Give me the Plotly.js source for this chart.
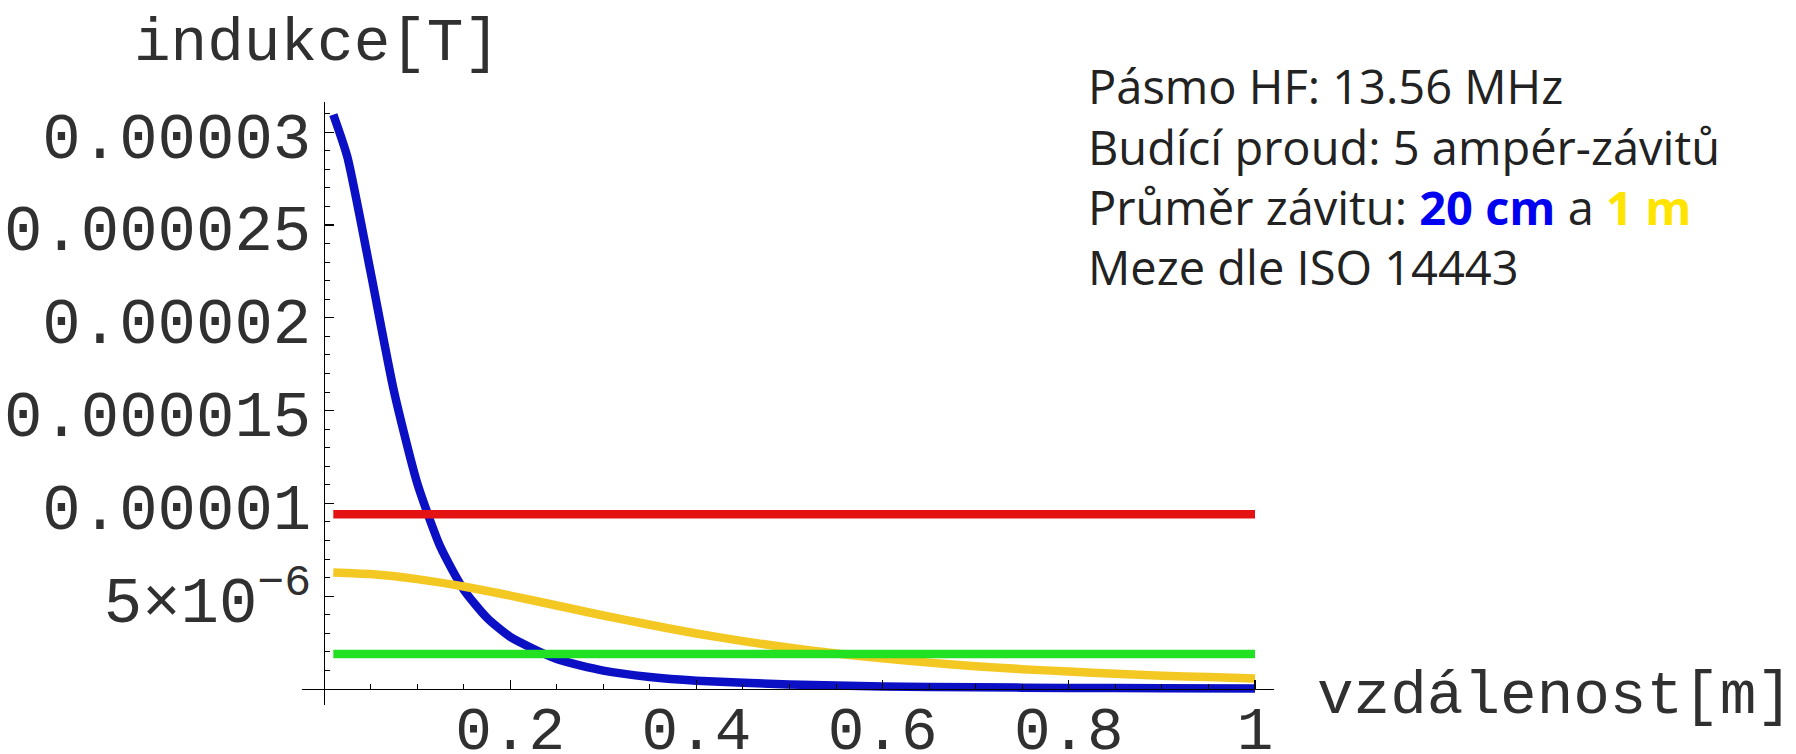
<!DOCTYPE html>
<html>
<head>
<meta charset="utf-8">
<script src="https://cdn.plot.ly/plotly-3.0.1.min.js"></script>
<style>html,body{margin:0;padding:0;background:#fff;}#chart{width:1796px;height:754px;}</style>
</head>
<body>
<div id="chart"></div>
<script>
// ---- data ----
const xBlue = [0.01, 0.025, 0.05, 0.075, 0.1, 0.125, 0.15, 0.175, 0.2, 0.25, 0.3, 0.35, 0.4, 0.5, 0.6, 0.7, 0.8, 0.9, 1.0];
const bBlue = [3.095e-5, 2.868e-5, 2.248e-5, 1.608e-5, 1.111e-5, 7.66e-6, 5.36e-6, 3.84e-6, 2.81e-6, 1.61e-6, 9.9e-7, 6.5e-7, 4.5e-7, 2.4e-7, 1.4e-7, 9e-8, 6e-8, 4e-8, 3e-8];
const xYellow = [0.01, 0.05, 0.1, 0.15, 0.2, 0.25, 0.3, 0.35, 0.4, 0.45, 0.5, 0.55, 0.6, 0.65, 0.7, 0.75, 0.8, 0.85, 0.9, 0.95, 1.0];
const bYellow = [6.28e-6, 6.19e-6, 5.92e-6, 5.52e-6, 5.03e-6, 4.50e-6, 3.96e-6, 3.46e-6, 2.99e-6, 2.58e-6, 2.22e-6, 1.91e-6, 1.65e-6, 1.42e-6, 1.23e-6, 1.07e-6, 9.4e-7, 8.2e-7, 7.2e-7, 6.4e-7, 5.6e-7];
const xLimits = [0.01, 1.0];
const bLimitMax = [9.42e-6, 9.42e-6];
const bLimitMin = [1.885e-6, 1.885e-6];
const xTickVals = [0.2, 0.4, 0.6, 0.8, 1];
const xTickText = ['0.2', '0.4', '0.6', '0.8', '1'];
const yTickVals = [5e-6, 1e-5, 1.5e-5, 2e-5, 2.5e-5, 3e-5];
const yTickText = ['5\u00d710<sup>\u22126</sup>', '0.00001', '0.000015', '0.00002', '0.000025', '0.00003'];
const infoLines = [
  'Pásmo HF: 13.56 MHz',
  'Budící proud: 5 ampér-závitů',
  'Průměr závitu: <b><span style="color:#0000f0">20 cm</span></b> a <b><span style="color:#ffe400">1 m</span></b>',
  'Meze dle ISO 14443'
];
const yTitle = 'indukce[T]';
const xTitle = 'vzdálenost[m]';

// ---- layout geometry (pixels) ----
const W = 1796, H = 754;
const L = 302, R = 1274, T = 102, B = 705;
const pw = R - L, ph = B - T;
const px = x => (x - L) / pw;
const py = y => (B - y) / ph;

const mono = 'Liberation Mono, Courier New, monospace';
const sans = 'Open Sans, Lato, sans-serif';
const monoColor = '#303030';

const lw = 8.5;
const traces = [
  {x: xBlue, y: bBlue, mode: 'lines', line: {color: '#0b10c4', width: lw, shape: 'spline', smoothing: 0.6}},
  {x: xYellow, y: bYellow, mode: 'lines', line: {color: '#f4c822', width: lw, shape: 'spline', smoothing: 0.6}},
  {x: xLimits, y: bLimitMax, mode: 'lines', line: {color: '#e41212', width: lw}},
  {x: xLimits, y: bLimitMin, mode: 'lines', line: {color: '#22e022', width: lw}}
];

const infoY = [86, 147, 207, 267];
const annotations = infoLines.map((t, i) => ({
  text: t, xref: 'paper', yref: 'paper', x: px(1086), y: py(infoY[i]),
  xanchor: 'left', yanchor: 'middle', showarrow: false, align: 'left',
  font: {family: sans, size: 47, color: '#222222'}
}));
annotations.push({text: yTitle, xref: 'paper', yref: 'paper', x: px(317), y: py(44),
  xanchor: 'center', yanchor: 'middle', showarrow: false, font: {family: mono, size: 61, color: monoColor}});
annotations.push({text: xTitle, xref: 'paper', yref: 'paper', x: px(1315), y: py(696),
  xanchor: 'left', yanchor: 'middle', showarrow: false, font: {family: mono, size: 61, color: monoColor}});

const layout = {
  width: W, height: H,
  margin: {l: L, r: W - R, t: T, b: H - B, pad: 0},
  paper_bgcolor: '#ffffff', plot_bgcolor: '#ffffff',
  showlegend: false,
  xaxis: {
    range: [(L - 324) / 931, (R - 324) / 931],
    anchor: 'free', position: py(689),
    showline: true, linecolor: '#000', linewidth: 1.4,
    showgrid: false, zeroline: false,
    tickmode: 'array', tickvals: xTickVals, ticktext: xTickText,
    ticks: 'inside', ticklen: 9, tickwidth: 1.2, tickcolor: '#000',
    ticklabelstandoff: -15,
    minor: {tickmode: 'linear', tick0: 0, dtick: 0.05, ticks: 'inside', ticklen: 5, tickwidth: 1, tickcolor: '#000', showgrid: false},
    tickfont: {family: mono, size: 61, color: monoColor}
  },
  yaxis: {
    range: [(689 - B) / 18.56e6, (689 - T) / 18.56e6],
    anchor: 'free', position: px(324),
    showline: true, linecolor: '#000', linewidth: 1.4,
    showgrid: false, zeroline: false,
    tickmode: 'array', tickvals: yTickVals, ticktext: yTickText,
    ticks: 'inside', ticklen: 9, tickwidth: 1.2, tickcolor: '#000',
    ticklabelstandoff: 0, ticklabelshift: 3,
    minor: {tickmode: 'linear', tick0: 0, dtick: 1e-6, ticks: 'inside', ticklen: 5, tickwidth: 1, tickcolor: '#000', showgrid: false},
    tickfont: {family: mono, size: 64, color: monoColor}
  },
  annotations: annotations
};

Plotly.newPlot('chart', traces, layout, {staticPlot: true, displayModeBar: false});
</script>
</body>
</html>
